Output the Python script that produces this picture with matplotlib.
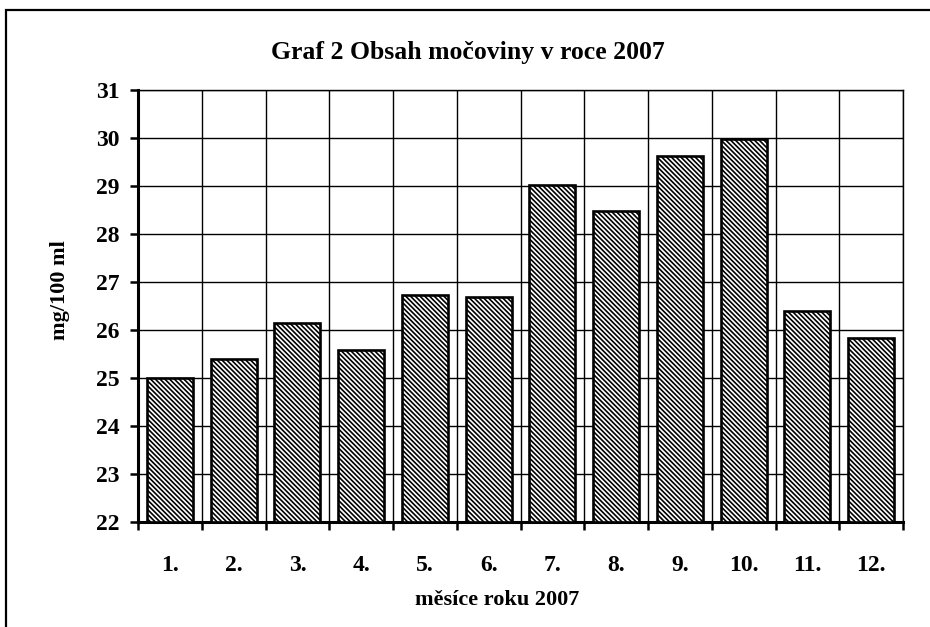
import matplotlib
matplotlib.use("Agg")
import matplotlib.pyplot as plt
from matplotlib.patches import Rectangle
from matplotlib.ticker import MultipleLocator

months = ["1.", "2.", "3.", "4.", "5.", "6.", "7.", "8.", "9.", "10.", "11.", "12."]
urea = [25.0, 25.4, 26.15, 25.59, 26.72, 26.69, 29.02, 28.48, 29.63, 29.98, 26.4, 25.83]
y_ticks = [22, 23, 24, 25, 26, 27, 28, 29, 30, 31]

title = "Graf 2 Obsah močoviny v roce 2007"
xlabel = "měsíce roku 2007"
ylabel = "mg/100 ml"

plt.rcParams["font.family"] = ["Liberation Serif", "DejaVu Serif"]
plt.rcParams["font.weight"] = "bold"
plt.rcParams["hatch.linewidth"] = 1.2

fig = plt.figure(figsize=(9.3, 6.27), dpi=100)
W, H = 930, 627

# outer border of the chart area (cropped at right and bottom)
fig.patches.append(Rectangle((6 / W, -0.1), 1.2, 1 - 10 / H + 0.1, transform=fig.transFigure,
                             fill=False, edgecolor="black", linewidth=1.6))

ax = fig.add_axes([138 / W, (H - 522) / H, (903 - 138) / W, (522 - 90) / H])
x = list(range(len(months)))
ax.bar(x, [v - y_ticks[0] for v in urea], bottom=y_ticks[0], width=0.72, color="white",
       edgecolor="black", linewidth=1.9, hatch="\\" * 7, zorder=3)

ax.set_xlim(-0.5, len(months) - 0.5)
ax.set_ylim(y_ticks[0], y_ticks[-1])
ax.set_yticks(y_ticks)
ax.set_xticks(x)
ax.set_xticklabels(months)
ax.xaxis.set_minor_locator(MultipleLocator(1, offset=0.5))
ax.tick_params(axis="x", which="major", length=0, pad=24, labelsize=17)
ax.tick_params(axis="x", which="minor", length=6, width=1.8, direction="out")
ax.tick_params(axis="y", length=6, width=1.8, direction="out", pad=7, labelsize=17)

ax.grid(True, axis="y", color="black", linewidth=1.0, zorder=0)
ax.grid(True, axis="x", which="minor", color="black", linewidth=1.0, zorder=0)
ax.set_axisbelow(True)
for side in ["left", "bottom"]:
    ax.spines[side].set_linewidth(2.2)
for side in ["top", "right"]:
    ax.spines[side].set_linewidth(1.0)

fig.text(468 / W, 1 - 52 / H, title, ha="center", va="center", fontsize=18.5, fontweight="bold")
fig.text(497 / W, 1 - 600 / H, xlabel, ha="center", va="center", fontsize=16, fontweight="bold")
fig.text(60 / W, 1 - 290 / H, ylabel, ha="center", va="center", rotation=90, fontsize=16,
         fontweight="bold")

fig.savefig("out.png", dpi=100)
